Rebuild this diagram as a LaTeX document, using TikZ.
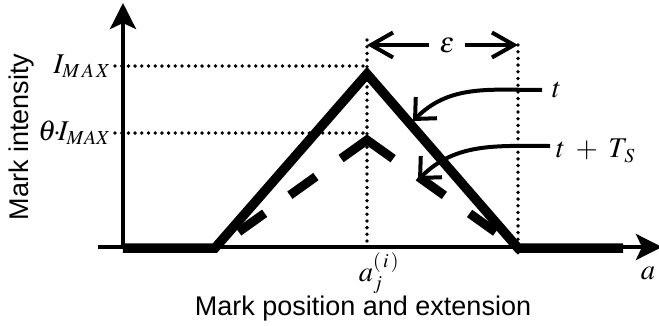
\documentclass[tikz,border=0pt]{standalone}
\usepackage{mathptmx}
\usepackage[no-math]{fontspec}
\setsansfont{Liberation Sans}
\usetikzlibrary{arrows.meta,positioning}
\newcommand{\mlbl}[1]{\scalebox{1.15}{$#1$}}
\tikzset{
  axisline/.style={line width=4pt,-{Stealth[length=26pt,width=26pt,inset=6pt]}},
  markline/.style={line width=9.5pt},
  markdash/.style={line width=9pt,dash pattern=on 32pt off 31pt on 32pt off 31pt on 64pt off 31pt on 32pt off 31pt on 32pt off 52pt,dash phase=342pt},
  dots/.style={line width=3.8pt,line cap=round,dash pattern=on 0pt off 6.7pt},
  barb/.style={line width=4pt,-{Straight Barb[length=16pt,width=30pt]}},
  epsbarb/.style={line width=4pt,-{Straight Barb[length=22pt,width=25pt]}},
  lbl/.style={font=\fontsize{24.88}{30}\selectfont,inner sep=1pt},
  txt/.style={font=\sffamily\fontsize{27}{32}\selectfont},
}
\begin{document}
\begin{tikzpicture}[x=1pt,y=1pt]
  \useasboundingbox (-123,-78) rectangle (536,247);
  % axes
  \coordinate (o) at (0,0);
  \coordinate (xs) at (-25,0);
  \coordinate (xe) at (539,0);
  \coordinate (ye) at (0,244);
  \draw[axisline] (xs) -- (xe);
  \draw[axisline] (o) -- (ye);
  % guide lines
  \coordinate (imaxl) at (-8,181);
  \coordinate (imaxr) at (244,181);
  \coordinate (thl) at (-8,114);
  \coordinate (thr) at (244,114);
  \coordinate (ctop) at (244,207);
  \coordinate (cbot) at (244,0);
  \coordinate (etop) at (395,202);
  \coordinate (ebot) at (395,-11);
  \draw[dots] (imaxl) -- (imaxr);
  \draw[dots] (thl) -- (thr);
  \draw[dots] (ctop) -- (cbot);
  \draw[dots] (etop) -- (ebot);
  \node[lbl,left=3pt of imaxl] (imax) {\mlbl{I_{M\,A\,X}}};
  \node[lbl,inner sep=0pt,left=4pt of thl] (th) {\mlbl{\theta\!{\cdot}\!I_{MAX}}};
  % marks at t and t+T_S
  \coordinate (sa) at (0,-1);
  \coordinate (sl) at (92,-1);
  \coordinate (spk) at (244,173);
  \coordinate (sr) at (395,-1);
  \coordinate (sb) at (500,-1);
  \draw[markline] (sa) -- (sl) -- (spk) -- (sr) -- (sb);
  \coordinate (dl) at (94.5,0);
  \coordinate (dpk) at (244,107);
  \coordinate (dr) at (393.5,0);
  \draw[markdash] (dl) -- (dpk) -- (dr);
  % extension
  \node[lbl,inner xsep=10pt] (eps) at (324,202) {\mlbl{\varepsilon}};
  \coordinate (epsl) at (244,202);
  \coordinate (epsr) at (395,202);
  \draw[epsbarb] (eps) -- (epsl);
  \draw[epsbarb] (eps) -- (epsr);
  % pointers
  \node[lbl,anchor=west,inner xsep=10pt] (tl) at (419,157) {\mlbl{t}};
  \coordinate (tpt) at (290,126);
  \draw[barb] (tl.west) to[out=180,in=45] (tpt);
  \node[lbl,anchor=west,inner xsep=6pt] (tsl) at (427,96) {\mlbl{t\;+\;T_{\,S}}};
  \coordinate (tspt) at (295,67);
  \draw[barb] ([yshift=5pt]tsl.west) to[out=180,in=45] (tspt);
  % axis labels
  \node[lbl] (aj) at (256,-26) {\mlbl{a_j^{(\,i\,)}}};
  \node[lbl] (al) at (525,-26) {\mlbl{a}};
  \node[txt] (xlab) at (240,-62) {Mark position and extension};
  \node[txt,rotate=90,inner sep=0pt] (ylab) at (-101,110) {Mark intensity};
\end{tikzpicture}
\end{document}
